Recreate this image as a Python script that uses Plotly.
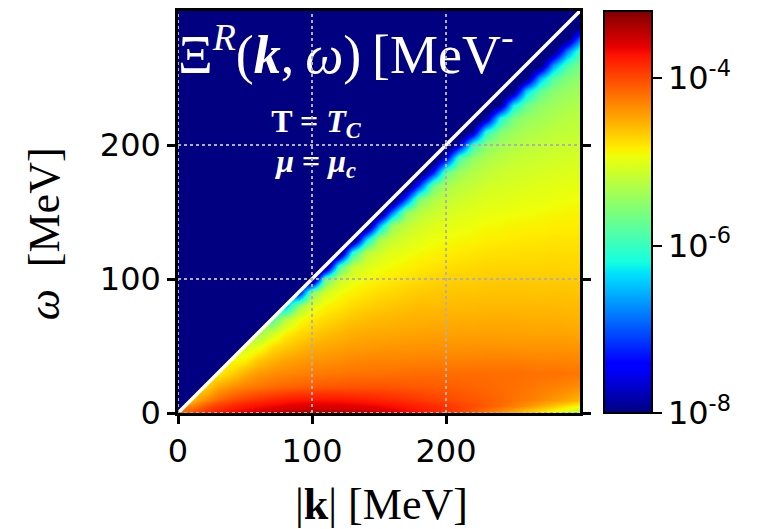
import numpy as np
import plotly.graph_objects as go

# Grid of the retarded function: momentum |k| (columns) and energy omega (rows), in MeV
K_MEV = list(range(0, 301, 10))
OMEGA_MEV = [0, 5] + list(range(10, 301, 10))

# log10 of Xi^R(k, omega) [MeV^-1].  Row i belongs to OMEGA_MEV[i] and lists the
# values for |k| >= omega (on and below the light cone) up to |k| = 300 MeV.
LOG10_XI_ROWS = [
    [-4.2, -4.0, -3.85, -3.75, -3.65, -3.6, -3.55, -3.5, -3.45, -3.42, -3.4, -3.4, -3.42, -3.45, -3.48, -3.52,
     -3.58, -3.65, -3.72, -3.8, -3.88, -3.98, -4.1, -4.25, -4.4, -4.55, -4.7, -4.85, -5.0, -5.15, -5.3],
    [-4.3, -4.05, -3.92, -3.82, -3.75, -3.7, -3.66, -3.62, -3.59, -3.58, -3.58, -3.59, -3.61, -3.63, -3.66,
     -3.7, -3.74, -3.79, -3.84, -3.89, -3.95, -4.02, -4.09, -4.17, -4.27, -4.37, -4.5, -4.63, -4.78, -4.92],
    [-4.6, -4.35, -4.15, -4.02, -3.93, -3.86, -3.8, -3.76, -3.73, -3.72, -3.72, -3.73, -3.75, -3.77, -3.8,
     -3.83, -3.87, -3.91, -3.95, -3.99, -4.03, -4.07, -4.11, -4.16, -4.21, -4.26, -4.32, -4.39, -4.47, -4.56],
    [-4.75, -4.5, -4.38, -4.3, -4.24, -4.19, -4.15, -4.12, -4.1, -4.08, -4.07, -4.06, -4.06, -4.06, -4.07,
     -4.08, -4.09, -4.1, -4.11, -4.12, -4.14, -4.16, -4.18, -4.2, -4.22, -4.25, -4.28, -4.31, -4.35],
    [-4.85, -4.70, -4.53, -4.42, -4.36, -4.33, -4.30, -4.27, -4.25, -4.24, -4.22, -4.21, -4.21, -4.20, -4.19,
     -4.18, -4.18, -4.18, -4.18, -4.18, -4.18, -4.19, -4.19, -4.2, -4.21, -4.21, -4.22, -4.23],
    [-4.95, -4.88, -4.67, -4.56, -4.48, -4.43, -4.40, -4.38, -4.36, -4.33, -4.32, -4.31, -4.31, -4.31, -4.30,
     -4.30, -4.30, -4.30, -4.30, -4.29, -4.29, -4.29, -4.30, -4.31, -4.30, -4.31, -4.32],
    [-5.1, -5.02, -4.77, -4.67, -4.59, -4.52, -4.49, -4.46, -4.43, -4.42, -4.41, -4.40, -4.39, -4.38, -4.38,
     -4.38, -4.38, -4.38, -4.38, -4.38, -4.39, -4.39, -4.39, -4.39, -4.39, -4.40],
    [-5.4, -5.14, -4.86, -4.75, -4.67, -4.61, -4.56, -4.52, -4.50, -4.49, -4.48, -4.47, -4.46, -4.45, -4.45,
     -4.45, -4.45, -4.45, -4.45, -4.46, -4.46, -4.47, -4.46, -4.47, -4.48],
    [-5.9, -5.28, -4.95, -4.82, -4.74, -4.69, -4.63, -4.59, -4.57, -4.56, -4.54, -4.53, -4.52, -4.52, -4.52,
     -4.52, -4.51, -4.51, -4.51, -4.52, -4.52, -4.52, -4.53, -4.54],
    [-6.6, -5.44, -5.02, -4.88, -4.81, -4.74, -4.70, -4.66, -4.63, -4.61, -4.59, -4.59, -4.58, -4.58, -4.58,
     -4.57, -4.57, -4.57, -4.57, -4.57, -4.57, -4.58, -4.58],
    [-7.5, -5.57, -5.09, -4.94, -4.86, -4.80, -4.76, -4.73, -4.69, -4.66, -4.65, -4.64, -4.63, -4.63, -4.62,
     -4.62, -4.62, -4.62, -4.63, -4.62, -4.62, -4.63],
    [-8.5, -5.77, -5.16, -5.00, -4.91, -4.86, -4.82, -4.78, -4.75, -4.72, -4.70, -4.69, -4.69, -4.67, -4.67,
     -4.67, -4.67, -4.67, -4.67, -4.67, -4.68],
    [-8.5, -5.96, -5.20, -5.06, -4.96, -4.91, -4.87, -4.83, -4.80, -4.78, -4.75, -4.74, -4.72, -4.72, -4.72,
     -4.72, -4.72, -4.71, -4.72, -4.72],
    [-8.5, -6.19, -5.28, -5.11, -5.01, -4.96, -4.91, -4.88, -4.85, -4.83, -4.81, -4.78, -4.77, -4.77, -4.76,
     -4.76, -4.75, -4.76, -4.76],
    [-8.5, -6.44, -5.36, -5.17, -5.07, -5.00, -4.95, -4.92, -4.90, -4.88, -4.85, -4.84, -4.82, -4.81, -4.81,
     -4.80, -4.80, -4.80],
    [-8.5, -6.66, -5.43, -5.22, -5.11, -5.04, -5.00, -4.97, -4.94, -4.91, -4.90, -4.88, -4.87, -4.86, -4.84,
     -4.84, -4.84],
    [-8.5, -6.87, -5.52, -5.26, -5.15, -5.08, -5.04, -5.01, -4.97, -4.96, -4.94, -4.93, -4.92, -4.90, -4.88,
     -4.88],
    [-8.5, -7.05, -5.60, -5.31, -5.20, -5.13, -5.08, -5.04, -5.02, -5.00, -4.98, -4.97, -4.95, -4.94, -4.93],
    [-8.5, -7.21, -5.69, -5.35, -5.25, -5.18, -5.11, -5.08, -5.06, -5.04, -5.02, -5.00, -4.99, -4.98],
    [-8.5, -7.35, -5.75, -5.41, -5.29, -5.21, -5.15, -5.12, -5.10, -5.08, -5.05, -5.04, -5.03],
    [-8.5, -7.5, -5.87, -5.47, -5.33, -5.25, -5.19, -5.16, -5.14, -5.11, -5.09, -5.08],
    [-8.5, -7.62, -5.97, -5.52, -5.37, -5.29, -5.24, -5.20, -5.16, -5.14, -5.13],
    [-8.5, -7.77, -6.05, -5.57, -5.41, -5.33, -5.28, -5.22, -5.20, -5.18],
    [-8.5, -7.88, -6.17, -5.62, -5.44, -5.38, -5.31, -5.26, -5.23],
    [-8.5, -7.97, -6.29, -5.71, -5.49, -5.40, -5.34, -5.30],
    [-8.5, -8.09, -6.43, -5.77, -5.53, -5.44, -5.38],
    [-8.5, -8.13, -6.57, -5.82, -5.58, -5.48],
    [-8.5, -8.17, -6.69, -5.88, -5.63],
    [-8.5, -8.19, -6.81, -5.93],
    [-8.5, -8.23, -6.93],
    [-8.5, -8.26],
    [-8.5],
]

LOG10_MIN, LOG10_MAX = -8.0, -3.2
CBAR_TICKVALS = [-8, -6, -4]
CBAR_TICKTEXT = ["10<sup>-8</sup>", "10<sup>-6</sup>", "10<sup>-4</sup>"]
AXIS_TICKS = [0, 100, 200]
AXIS_MAX = 300

TITLE_TEXT = "\u039e<sup><i>R</i></sup>(<b><i>k</i></b>,\u2009<i>\u03c9</i>)\u2009[MeV<sup>-</sup>"
STATE_LINES = ["<b>T = <i>T</i><sub><i>C</i></sub></b>", "<b><i>\u03bc</i> = <i>\u03bc</i><sub><i>c</i></sub></b>"]

# matplotlib-style "jet"
JET = [
    [0.0, "rgb(0,0,128)"], [0.11, "rgb(0,0,255)"], [0.125, "rgb(0,0,255)"],
    [0.34, "rgb(0,219,255)"], [0.35, "rgb(0,229,247)"], [0.375, "rgb(21,255,226)"],
    [0.64, "rgb(239,255,8)"], [0.65, "rgb(247,245,0)"], [0.66, "rgb(255,236,0)"],
    [0.89, "rgb(255,19,0)"], [0.91, "rgb(232,0,0)"], [1.0, "rgb(128,0,0)"],
]
NAVY = "rgb(0,0,128)"
GRID = "rgb(176,176,176)"
SANS = "DejaVu Sans"
SERIF = "Liberation Serif"

# assemble the rectangular z grid; cells above the light cone repeat the
# column's cone value (they are covered by the empty region drawn below)
nk = len(K_MEV)
z = np.empty((len(OMEGA_MEV), nk))
cone = np.full(nk, np.nan)
for i, (w, row) in enumerate(zip(OMEGA_MEV, LOG10_XI_ROWS)):
    n = len(row)
    assert n == sum(1 for k in K_MEV if k >= w), (w, n)
    start = nk - n
    z[i, start:] = row
    cone[start:] = row
    z[i, :start] = cone[:start]

fig = go.Figure()

fig.add_trace(go.Heatmap(
    x=K_MEV, y=OMEGA_MEV, z=z, zmin=LOG10_MIN, zmax=LOG10_MAX,
    colorscale=JET, zsmooth="best", hoverinfo="skip",
    colorbar=dict(
        x=1.06, xanchor="left", xpad=0, y=0.5, yanchor="middle", len=1.0, ypad=0,
        thickness=48, outlinewidth=2, outlinecolor="black",
        tickvals=CBAR_TICKVALS, ticktext=CBAR_TICKTEXT,
        ticks="outside", ticklen=9, tickwidth=2, tickcolor="black",
        tickfont=dict(family=SANS, size=32, color="black"),
    ),
))

# region above the light cone (omega > |k|), bounded by the white line omega = |k|
fig.add_trace(go.Scatter(
    x=K_MEV, y=[AXIS_MAX] * nk, mode="lines", line=dict(width=0),
    hoverinfo="skip", showlegend=False,
))
fig.add_trace(go.Scatter(
    x=K_MEV, y=K_MEV, mode="lines", fill="tonexty", fillcolor=NAVY,
    line=dict(color="white", width=3.5), hoverinfo="skip", showlegend=False,
))

fig.add_trace(go.Scatter(
    x=[0], y=[264], mode="text", text=[TITLE_TEXT], textposition="middle right",
    textfont=dict(family=SERIF, size=54, color="white"), cliponaxis=True,
    hoverinfo="skip", showlegend=False,
))
fig.add_trace(go.Scatter(
    x=[103, 103], y=[216, 186], mode="text", text=STATE_LINES, textposition="middle center",
    textfont=dict(family=SERIF, size=32, color="white"), cliponaxis=True,
    hoverinfo="skip", showlegend=False,
))

for v in AXIS_TICKS:
    fig.add_shape(type="line", xref="x", yref="paper", x0=v, x1=v, y0=0, y1=1,
                  line=dict(color=GRID, width=2, dash="dot"), layer="above")
    fig.add_shape(type="line", xref="paper", yref="y", x0=0, x1=1, y0=v, y1=v,
                  line=dict(color=GRID, width=2, dash="dot"), layer="above")

axis_common = dict(
    range=[0, AXIS_MAX], tickvals=AXIS_TICKS, ticks="outside", ticklen=8, tickwidth=2.5,
    tickcolor="black", showline=True, linewidth=2.5, linecolor="black",
    showgrid=False, zeroline=False, tickfont=dict(family=SANS, size=32, color="black"),
)
fig.update_xaxes(**axis_common, mirror=True)
fig.update_yaxes(**axis_common, mirror="ticks")

fig.add_annotation(text="|<b>k</b>| [MeV]", xref="paper", yref="paper", x=0.506, y=-0.228,
                   xanchor="center", yanchor="middle", showarrow=False,
                   font=dict(family=SERIF, size=44, color="black"))
fig.add_annotation(text="<i>\u03c9</i>\u2002[MeV]", xref="paper", yref="paper", x=-0.333, y=0.445,
                   xanchor="center", yanchor="middle", showarrow=False, textangle=-90,
                   font=dict(family=SERIF, size=44, color="black"))

fig.update_layout(
    width=757, height=529, margin=dict(l=178, r=177, t=8, b=116),
    paper_bgcolor="white", plot_bgcolor=NAVY, showlegend=False,
)

fig.write_html("out.html")
